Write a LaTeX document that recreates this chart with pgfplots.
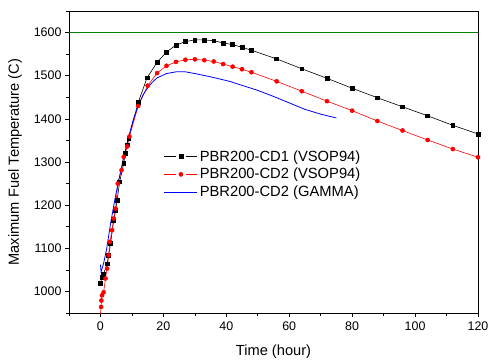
\documentclass[border=0pt]{standalone}
\usepackage{pgfplots}
\pgfplotsset{compat=1.18}
\usepackage{fontspec}
\setmainfont{Liberation Sans}
\pgfplotsset{gaplegend/.style={legend image code/.code={\draw[##1,mark=none] (0cm,0cm)--(0.40cm,0cm) (0.76cm,0cm)--(1.16cm,0cm); \draw[##1] plot coordinates {(0.58cm,0cm)};}}}
\begin{document}
\begin{tikzpicture}
\path[use as bounding box] (-69bp,-48bp) rectangle (419bp,313bp);
\begin{axis}[
  at={(0,0)}, anchor=south west,
  scale only axis, width=409bp, height=302bp,
  xmin=-10, xmax=120, ymin=950, ymax=1650,
  xtick={0,20,...,120}, minor xtick={-10,10,...,110},
  ytick={1000,1100,...,1600}, minor ytick={950,1050,...,1650},
  xtick pos=left, ytick pos=left, tick align=outside,
  major tick length=4bp, minor tick length=2.5bp,
  tick style={black, line width=0.6pt},
  axis line style={line width=0.8pt},
  /pgf/number format/assume math mode=true,
  /pgf/number format/1000 sep={},
  tick label style={font=\fontsize{12.5}{14}\selectfont},
  xticklabel style={yshift=-1bp},
  label style={font=\fontsize{14.7}{17}\selectfont},
  xlabel={Time (hour)}, ylabel={Maximum Fuel Temperature (C)},
  xlabel style={at={(axis description cs:0.5,-0.129)}, anchor=center},
  ylabel style={at={(axis description cs:-0.132,0.5)}, anchor=center},
  clip=true,
  legend style={draw=none, fill=none, at={(0.232,0.545)}, anchor=north west,
    font=\fontsize{14.8}{17}\selectfont, inner sep=0pt, row sep=1.5bp},
  legend cell align=left,
  legend image code/.code={\draw[#1] (0cm,0cm)--(1.16cm,0cm);},
]
\addplot[black, line width=0.6pt, mark=square*, mark size=1.9bp, gaplegend] coordinates {
(0,1018)(0.5,1033)(1,1041)(2.1,1064)(2.6,1084)(3.2,1111)(4.2,1165)(4.8,1188)(5.3,1212)(6.1,1254)(7.4,1297)(7.9,1320)(8.5,1340)(9,1355)(12,1438)(14.8,1495)(18,1531)(21,1555)(24,1571)(27,1579)(30,1583)(33,1583)(36,1581)(39,1576)(42,1572)(45,1566)(48,1559)(56,1539)(64,1516)(72,1494)(80,1471)(88,1449)(96,1428)(104,1407)(112,1385)(120,1365)
};
\addlegendentry{PBR200-CD1 (VSOP94)}
\addplot[red, line width=0.6pt, mark=*, mark size=2bp, gaplegend] coordinates {
(-0.1,935)(0,949)(0.2,964)(0.3,979)(0.5,991)(1,998)(1.6,1030)(2.1,1053)(2.6,1084)(3,1115)(3.7,1142)(4.2,1169)(4.8,1192)(5.5,1250)(6.7,1281)(7.4,1312)(8.5,1336)(9.2,1359)(12,1430)(15,1477)(18,1506)(21,1523)(24,1532)(27,1537)(30,1538)(33,1536)(36,1533)(39,1527)(42,1521)(45,1515)(48,1508)(56,1487)(64,1464)(72,1441)(80,1419)(88,1395)(96,1373)(104,1351)(112,1330)(120,1311)
};
\addlegendentry{PBR200-CD2 (VSOP94)}
\addplot[blue, line width=0.8pt] coordinates {
(0,1062)(0.2,1045)(1,1065)(2,1100)(3.2,1157)(4.5,1210)(5.8,1258)(7.5,1315)(9,1359)(10.5,1400)(12,1430)(13.5,1455)(15,1472)(16.5,1485)(18,1495)(21,1505)(24,1509)(27,1509)(30,1505)(34,1499)(37,1494)(41,1487)(44.4,1479)(50,1466)(55,1452)(60,1437)(65,1422)(70,1411)(75,1402)
};
\addlegendentry{PBR200-CD2 (GAMMA)}
\addplot[color={rgb,255:red,0;green,128;blue,0}, line width=0.8pt, forget plot] coordinates {(-10,1600)(120,1600)};
\end{axis}
\end{tikzpicture}
\end{document}
